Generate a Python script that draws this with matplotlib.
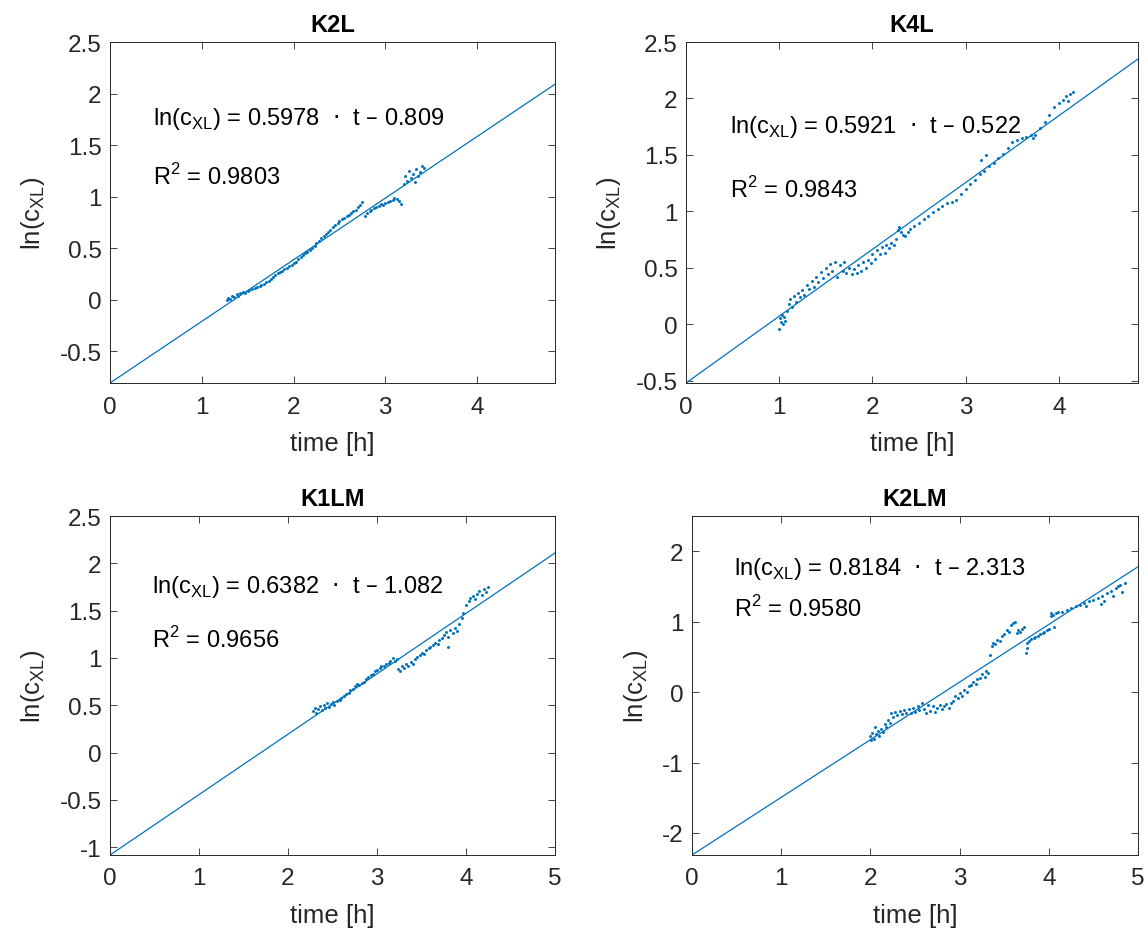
import matplotlib
matplotlib.use("Agg")
import matplotlib.pyplot as plt
from matplotlib.ticker import FormatStrFormatter

plt.rcParams['font.family'] = ['Liberation Sans', 'DejaVu Sans']
plt.rcParams['axes.unicode_minus'] = False

blue = '#0072BD'
dark = '#262626'

titles = ['K2L', 'K4L', 'K1LM', 'K2LM']
slopes = [0.5978, 0.5921, 0.6382, 0.8184]
intercepts = [-0.809, -0.522, -1.082, -2.313]
r2 = ['0.9803', '0.9843', '0.9656', '0.9580']
xmax = [4.85, 4.85, 5.0, 5.0]
ymax = [2.5, 2.5, 2.5, 2.5]

# K2L
t1 = [1.27, 1.29, 1.31, 1.33, 1.35, 1.38, 1.40, 1.42, 1.45, 1.47, 1.50, 1.52, 1.55, 1.58, 1.60,
      1.63, 1.65, 1.68, 1.70, 1.73, 1.75, 1.78, 1.80, 1.83, 1.85, 1.88, 1.90, 1.93, 1.95, 1.98,
      2.00, 2.03, 2.05, 2.08, 2.10, 2.13, 2.15, 2.18, 2.20, 2.23, 2.25, 2.28, 2.30, 2.33, 2.35,
      2.38, 2.40, 2.43, 2.45, 2.48, 2.50, 2.53, 2.55, 2.58, 2.60, 2.63, 2.65, 2.68, 2.70, 2.73,
      2.75, 2.78, 2.80, 2.83, 2.85, 2.88, 2.90, 2.93, 2.95, 2.98, 3.00, 3.03, 3.05, 3.08, 3.10,
      3.13, 3.15, 3.17, 3.20, 3.22, 3.24, 3.26, 3.28, 3.30, 3.32, 3.34, 3.36, 3.38, 3.40, 3.42]
y1 = [0.00, 0.02, 0.01, 0.04, 0.03, 0.05, 0.04, 0.06, 0.07, 0.06, 0.08, 0.09, 0.10, 0.11, 0.12,
      0.13, 0.14, 0.15, 0.17, 0.18, 0.20, 0.22, 0.24, 0.26, 0.27, 0.28, 0.30, 0.31, 0.33, 0.34,
      0.36, 0.37, 0.39, 0.41, 0.43, 0.45, 0.46, 0.48, 0.50, 0.52, 0.55, 0.57, 0.60, 0.62, 0.64,
      0.66, 0.68, 0.70, 0.72, 0.74, 0.76, 0.78, 0.79, 0.81, 0.82, 0.84, 0.86, 0.87, 0.90, 0.92,
      0.95, 0.81, 0.84, 0.86, 0.87, 0.89, 0.90, 0.91, 0.93, 0.92, 0.94, 0.95, 0.96, 0.97, 0.99,
      0.98, 0.96, 0.93, 1.12, 1.20, 1.15, 1.25, 1.18, 1.22, 1.14, 1.27, 1.20, 1.24, 1.30, 1.28]

# K4L
t2 = [1.00, 1.01, 1.02, 1.03, 1.04, 1.05, 1.06, 1.08, 1.10, 1.12, 1.14, 1.16, 1.18, 1.20, 1.22,
      1.25, 1.27, 1.30, 1.32, 1.35, 1.37, 1.40, 1.42, 1.45, 1.47, 1.50, 1.52, 1.55, 1.57, 1.60,
      1.62, 1.65, 1.68, 1.70, 1.72, 1.75, 1.78, 1.80, 1.83, 1.85, 1.88, 1.90, 1.93, 1.95, 1.98,
      2.00, 2.03, 2.05, 2.08, 2.10, 2.13, 2.15, 2.18, 2.20, 2.23, 2.25, 2.27, 2.29, 2.31, 2.33,
      2.35, 2.38, 2.40, 2.45, 2.50, 2.55, 2.60, 2.65, 2.70, 2.75, 2.80, 2.85, 2.90, 2.95, 3.00,
      3.05, 3.10, 3.15, 3.17, 3.20, 3.22, 3.25, 3.30, 3.35, 3.40, 3.45, 3.50, 3.55, 3.60, 3.65,
      3.70, 3.72, 3.75, 3.80, 3.85, 3.90, 3.95, 4.00, 4.05, 4.08, 4.10, 4.12, 4.15]
y2 = [-0.04, 0.05, 0.02, 0.08, 0.00, 0.06, 0.03, 0.12, 0.18, 0.22, 0.15, 0.25, 0.20, 0.28, 0.24,
      0.30, 0.26, 0.35, 0.31, 0.38, 0.33, 0.42, 0.37, 0.46, 0.41, 0.50, 0.44, 0.53, 0.47, 0.55,
      0.42, 0.52, 0.47, 0.55, 0.45, 0.50, 0.44, 0.49, 0.45, 0.52, 0.47, 0.55, 0.50, 0.57, 0.54,
      0.62, 0.58, 0.66, 0.62, 0.68, 0.63, 0.70, 0.67, 0.72, 0.70, 0.75, 0.83, 0.86, 0.82, 0.79,
      0.78, 0.82, 0.84, 0.87, 0.90, 0.93, 0.96, 0.99, 1.02, 1.05, 1.07, 1.08, 1.10, 1.15, 1.20,
      1.24, 1.28, 1.33, 1.45, 1.36, 1.50, 1.40, 1.43, 1.47, 1.51, 1.56, 1.61, 1.63, 1.65, 1.66,
      1.68, 1.65, 1.68, 1.74, 1.79, 1.85, 1.92, 1.96, 1.99, 2.02, 1.98, 2.04, 2.06]

# K1LM
t3 = [2.28, 2.30, 2.32, 2.34, 2.36, 2.38, 2.40, 2.42, 2.44, 2.46, 2.48, 2.50, 2.52, 2.55, 2.58,
      2.60, 2.63, 2.65, 2.68, 2.70, 2.73, 2.75, 2.78, 2.80, 2.83, 2.85, 2.88, 2.90, 2.93, 2.95,
      2.98, 3.00, 3.03, 3.05, 3.08, 3.10, 3.13, 3.15, 3.18, 3.20, 3.22, 3.24, 3.26, 3.28, 3.30,
      3.33, 3.35, 3.38, 3.40, 3.43, 3.45, 3.48, 3.50, 3.53, 3.55, 3.58, 3.60, 3.63, 3.65, 3.68,
      3.70, 3.73, 3.75, 3.78, 3.80, 3.80, 3.82, 3.85, 3.88, 3.90, 3.92, 3.95, 3.97, 4.00, 4.03,
      4.05, 4.08, 4.10, 4.12, 4.15, 4.18, 4.20, 4.22, 4.25]
y3 = [0.44, 0.47, 0.42, 0.46, 0.49, 0.45, 0.50, 0.47, 0.52, 0.48, 0.51, 0.53, 0.50, 0.55, 0.56,
      0.58, 0.60, 0.62, 0.63, 0.66, 0.67, 0.70, 0.72, 0.71, 0.74, 0.75, 0.78, 0.80, 0.82, 0.83,
      0.86, 0.87, 0.89, 0.92, 0.91, 0.94, 0.95, 0.97, 1.00, 0.97, 0.99, 0.88, 0.86, 0.91, 0.89,
      0.94, 0.91, 0.96, 0.94, 0.99, 1.01, 1.03, 1.05, 1.04, 1.08, 1.10, 1.12, 1.14, 1.16, 1.15,
      1.19, 1.21, 1.24, 1.27, 1.22, 1.12, 1.30, 1.26, 1.32, 1.28, 1.36, 1.42, 1.47, 1.56, 1.60,
      1.63, 1.65, 1.62, 1.68, 1.71, 1.67, 1.73, 1.70, 1.75]

# K2LM
t4 = [2.00, 2.01, 2.02, 2.04, 2.05, 2.06, 2.08, 2.10, 2.12, 2.14, 2.16, 2.18, 2.20, 2.22, 2.23,
      2.25, 2.28, 2.30, 2.33, 2.35, 2.38, 2.40, 2.43, 2.45, 2.48, 2.50, 2.53, 2.55, 2.58, 2.60,
      2.62, 2.65, 2.67, 2.70, 2.72, 2.75, 2.78, 2.80, 2.83, 2.85, 2.88, 2.90, 2.93, 2.95, 2.98,
      3.00, 3.03, 3.05, 3.08, 3.10, 3.13, 3.15, 3.18, 3.20, 3.23, 3.25, 3.28, 3.30, 3.32, 3.34,
      3.36, 3.38, 3.40, 3.42, 3.45, 3.48, 3.50, 3.53, 3.55, 3.58, 3.60, 3.62, 3.64, 3.66, 3.68,
      3.70, 3.72, 3.74, 3.75, 3.76, 3.78, 3.80, 3.83, 3.85, 3.88, 3.90, 3.93, 3.95, 3.98, 4.00,
      4.02, 4.03, 4.05, 4.06, 4.08, 4.10, 4.15, 4.20, 4.25, 4.30, 4.35, 4.40, 4.42, 4.45, 4.50,
      4.55, 4.58, 4.60, 4.62, 4.65, 4.70, 4.72, 4.75, 4.78, 4.80, 4.82, 4.85]
y4 = [-0.63, -0.68, -0.58, -0.66, -0.50, -0.60, -0.55, -0.62, -0.52, -0.57, -0.46, -0.50, -0.40, -0.44, -0.30,
      -0.35, -0.28, -0.33, -0.27, -0.31, -0.26, -0.30, -0.24, -0.29, -0.22, -0.28, -0.20, -0.26, -0.15, -0.24,
      -0.29, -0.18, -0.27, -0.20, -0.28, -0.22, -0.19, -0.24, -0.20, -0.17, -0.22, -0.15, -0.12, -0.05, -0.08,
      -0.02, -0.05, 0.03, 0.00, 0.08, 0.10, 0.14, 0.12, 0.18, 0.20, 0.25, 0.22, 0.30, 0.27, 0.52,
      0.66, 0.70, 0.68, 0.74, 0.72, 0.80, 0.83, 0.88, 0.86, 0.95, 0.98, 1.00, 0.84, 0.88, 0.86,
      0.90, 0.92, 0.56, 0.62, 0.70, 0.73, 0.75, 0.77, 0.78, 0.80, 0.82, 0.84, 0.86, 0.88, 0.90,
      1.08, 1.12, 1.10, 0.93, 1.12, 1.13, 1.14, 1.17, 1.19, 1.22, 1.24, 1.27, 1.22, 1.30, 1.31,
      1.34, 1.25, 1.37, 1.30, 1.40, 1.44, 1.36, 1.48, 1.50, 1.52, 1.42, 1.55]

ts = [t1, t2, t3, t4]
ys = [y1, y2, y3, y4]

# axes boxes in pixels: left, right, top, bottom
boxes = [(110, 555, 43, 384), (686, 1138, 43, 384),
         (110, 555, 517, 856), (692, 1138, 517, 856)]
yticks = [[-0.5, 0, 0.5, 1, 1.5, 2, 2.5], [-0.5, 0, 0.5, 1, 1.5, 2, 2.5],
          [-1, -0.5, 0, 0.5, 1, 1.5, 2, 2.5], [-2, -1, 0, 1, 2]]
xticks = [[0, 1, 2, 3, 4], [0, 1, 2, 3, 4], [0, 1, 2, 3, 4, 5], [0, 1, 2, 3, 4, 5]]

W, H = 1148, 929
fig = plt.figure(figsize=(W / 100, H / 100), dpi=100)

for i in range(4):
    l, r, tp, b = boxes[i]
    ax = fig.add_axes([l / W, 1 - b / H, (r - l) / W, (b - tp) / H])
    ax.plot(ts[i], ys[i], '.', color=blue, markersize=4.3, markeredgewidth=0)
    fx = [0, xmax[i]]
    fy = [intercepts[i] + slopes[i] * v for v in fx]
    ax.plot(fx, fy, '-', color=blue, linewidth=0.9)
    ax.set_xlim(0, xmax[i])
    ax.set_ylim(intercepts[i], ymax[i])
    ax.set_xticks(xticks[i])
    ax.set_yticks(yticks[i])
    ax.yaxis.set_major_formatter(FormatStrFormatter('%g'))
    ax.tick_params(direction='in', top=True, right=True, length=5, width=0.6,
                   colors=dark, labelsize=17.5)
    ax.tick_params(axis='x', pad=9)
    ax.tick_params(axis='y', pad=6)
    for s in ax.spines.values():
        s.set_color(dark)
        s.set_linewidth(0.7)
    ax.set_title(titles[i], fontsize=17, fontweight='bold', color='black', pad=8)
    ax.set_xlabel('time [h]', fontsize=18.5, color=dark, labelpad=10)
    ax.set_ylabel(r'ln(c$_\mathregular{XL}$)', fontsize=18.5, color=dark, labelpad=9)
    sign = '–' if intercepts[i] < 0 else '+'
    eq = r'ln(c$_\mathregular{XL}$) = %.4f  $\cdot$  t %s %.3f' % (slopes[i], sign, abs(intercepts[i]))
    ax.text(0.47, 1.76, eq, fontsize=17, va='center', ha='left', color='black')
    ax.text(0.47, 1.2, r'R$^\mathregular{2}$ = ' + r2[i], fontsize=17, va='center', ha='left', color='black')

fig.savefig('out.png', dpi=100, facecolor='white')
